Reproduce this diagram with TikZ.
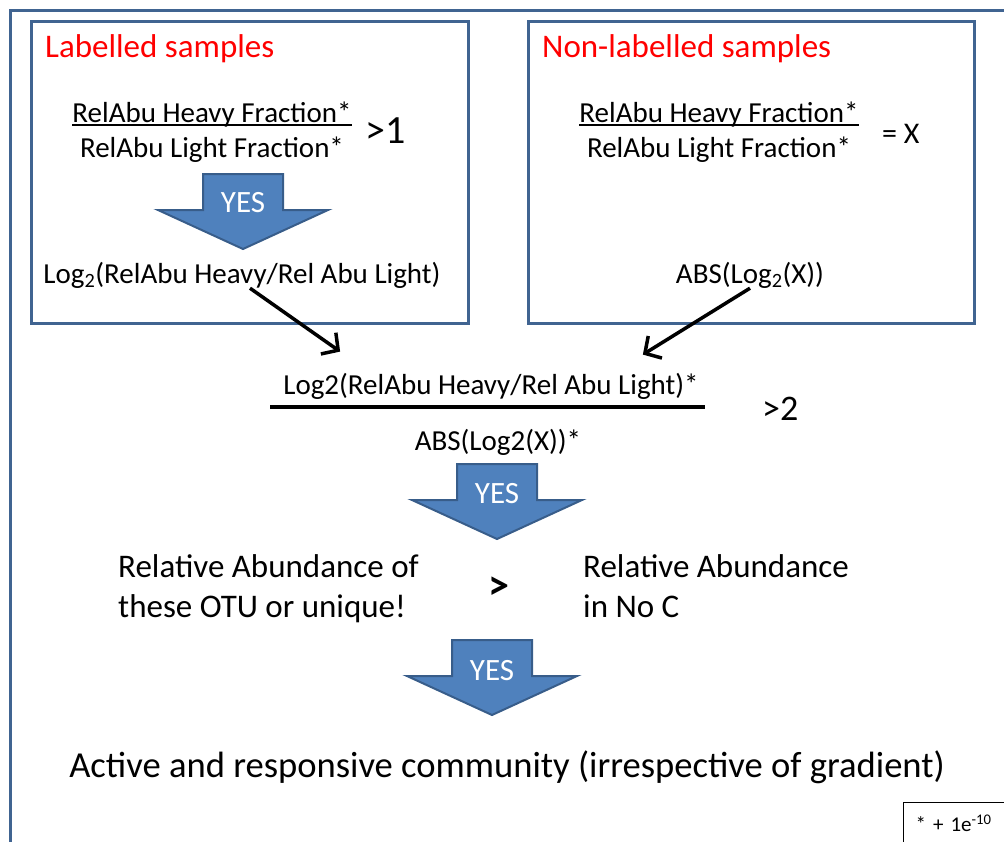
\documentclass[tikz,border=0pt]{standalone}
\usepackage{fontspec}
\setmainfont{Carlito}
\usepackage{tikz}
\usetikzlibrary{arrows.meta}
\definecolor{frameblue}{RGB}{64,100,145}
\definecolor{arrowfill}{RGB}{79,129,189}
\definecolor{arrowline}{RGB}{56,93,138}
\tikzset{inner sep=0pt}
\tikzset{
  sbox/.style={draw=frameblue, line width=3pt, anchor=north west},
  title/.style={font=\fontsize{33}{40}\selectfont, text=red, anchor=base west},
  frac/.style={font=\fontsize{29}{34}\selectfont, anchor=base},
  txt/.style={font=\fontsize{33}{40}\selectfont, anchor=base west, align=left},
  yes/.style={font=\fontsize{31}{36}\selectfont, text=white, anchor=base},
  flow/.style={line width=3.5pt, -{Straight Barb[length=12pt,width=26pt]}},
  pics/bigarrow/.style={code={
    \draw[arrowline, fill=arrowfill, line width=2pt, line join=miter]
      (-40,0) -- (40,0) -- (40,36) -- (85,36) -- (0,75) -- (-85,36) -- (-40,36) -- cycle;
  }}
}

\begin{document}
\begin{tikzpicture}[x=1pt, y=-1pt]
   \useasboundingbox (0,0) rectangle (1004,841);
   \clip (0,0) rectangle (1004,841);
   \draw[frameblue, line width=3pt] (10,850) -- (10,10) -- (1010,10);

   % labelled samples
   \node[sbox, minimum width=437pt, minimum height=302pt] (lbox) at (30,20) {};
   \node[title] (lab) at (45,57) {Labelled samples};
   \node[frac] (lnum) at (212,122) {RelAbu Heavy Fraction*};
   \node[frac] (lden) at (212,157) {RelAbu Light Fraction*};
   \draw[line width=1.5pt] ([yshift=-3pt]lnum.base west) -- ([yshift=-3pt]lnum.base east);
   \node[font=\fontsize{40}{48}\selectfont, anchor=base west] (lgt) at (365,143) {>1};
   \pic at (243,174) {bigarrow};
   \node[yes] (yes1) at (243,212) {YES};
   \node[frac] (llog) at (242,283) {Log\textsubscript{2}(RelAbu Heavy/Rel Abu Light)};

   % non-labelled samples
   \node[sbox, minimum width=446pt, minimum height=302pt] (rbox) at (527,20) {};
   \node[title] (nonlab) at (542,57) {Non-labelled samples};
   \node[frac] (rnum) at (719,122) {RelAbu Heavy Fraction*};
   \node[frac] (rden) at (719,157) {RelAbu Light Fraction*};
   \draw[line width=1.5pt] ([yshift=-3pt]rnum.base west) -- ([yshift=-3pt]rnum.base east);
   \node[font=\fontsize{30}{36}\selectfont, anchor=base west] (req) at (882,143) {= X};
   \node[frac] (rabs) at (750,283) {ABS(Log\textsubscript{2}(X))};

   % ratio of the two
   \node[frac] (mnum) at (491,394) {Log2(RelAbu Heavy/Rel Abu Light)*};
   \node[frac] (mden) at (498,450) {ABS(Log2(X))*};
   \draw[line width=3.5pt] (270,407) -- (705,407);
   \node[font=\fontsize{36}{44}\selectfont, anchor=base west] (mgt) at (762,420) {>2};
   \draw[flow] ([xshift=8pt]llog.south) -- ([xshift=57pt,yshift=21pt]mnum.north west);
   \draw[flow] (rabs.south) -- ([xshift=-56pt,yshift=18pt]mnum.north east);

   \pic at (497,464) {bigarrow};
   \node[yes] (yes2) at (497,503) {YES};

   \node[txt] (rel1) at (118,617) {Relative Abundance of\\these OTU or unique!};
   \node[font=\fontsize{42}{48}\selectfont\bfseries] (gt) at (499,588) {>};
   \node[txt] (rel2) at (583,617) {Relative Abundance\\in No C};

   \pic at (492,640) {bigarrow};
   \node[yes] (yes3) at (492,680) {YES};

   \node[font=\fontsize{36.6}{44}\selectfont, anchor=base] (active) at (507,777)
      {Active and responsive community (irrespective of gradient)};

   \node[draw, line width=1.2pt, anchor=north west, font=\fontsize{21}{25}\selectfont,
      text width=100pt, align=left, inner xsep=12pt, inner ysep=9pt,
      text height=20pt, text depth=20pt] (note) at (903,802) {* + 1e\textsuperscript{-10}};
\end{tikzpicture}
\end{document}
